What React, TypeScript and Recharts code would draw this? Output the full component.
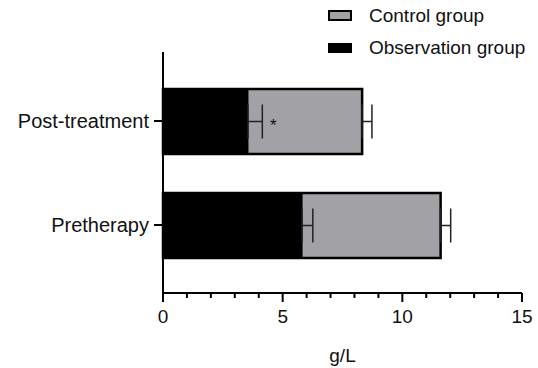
import {
  BarChart,
  Bar,
  XAxis,
  YAxis,
  ErrorBar,
  LabelList,
} from "recharts";
import { ReactElement } from "react";

const categories = ["Post-treatment", "Pretherapy"];
const controlValues = [8.32, 11.6];
const controlErrors = [0.41, 0.42];
const observationValues = [3.55, 5.81];
const observationErrors = [0.6, 0.45];
const significance = ["*", ""];
const xTicks = [0, 1, 2, 3, 4, 5, 6, 7, 8, 9, 10, 11, 12, 13, 14, 15];

const data = categories.map((name, i) => ({
  name,
  control: controlValues[i],
  controlErr: [0, controlErrors[i]],
  observation: observationValues[i],
  observationErr: [0, observationErrors[i]],
  observationTop: observationValues[i] + observationErrors[i],
  sig: significance[i],
}));

const FONT = "'Liberation Sans', Arial, sans-serif";

const XTick = (props: any) => {
  const { x, y, payload } = props;
  const major = payload.value % 5 === 0;
  return (
    <g>
      <line x1={x} x2={x} y1={y} y2={y + (major ? 9 : 5)} stroke="#000" strokeWidth={2} />
      {major && (
        <text x={x} y={y + 30} textAnchor="middle" fontSize={19} fontFamily={FONT} fill="#111">
          {payload.value}
        </text>
      )}
    </g>
  );
};

const StarLabel = (props: any) => {
  const { x, y, width, height, value, index } = props;
  if (!value) return null;
  const top = data[index].observationTop;
  const unit = width / data[index].observation;
  return (
    <text
      x={x + top * unit + 11}
      y={y + height / 2 + 9}
      textAnchor="middle"
      fontSize={17}
      fontFamily={FONT}
      fill="#111"
    >
      {value}
    </text>
  );
};

const LegendBox = (): ReactElement => (
  <div
    style={{
      position: "absolute",
      left: 328,
      top: 0,
      fontFamily: FONT,
      fontSize: 19,
      color: "#111",
    }}
  >
    <div style={{ display: "flex", alignItems: "center", height: 31 }}>
      <span
        style={{
          width: 20,
          height: 7,
          background: "#a2a1a5",
          border: "2px solid #000",
          marginRight: 17,
        }}
      />
      Control group
    </div>
    <div style={{ display: "flex", alignItems: "center", height: 33 }}>
      <span style={{ width: 24, height: 10, background: "#000", marginRight: 17 }} />
      Observation group
    </div>
  </div>
);

export const App = (): ReactElement => {
  return (
    <div style={{ position: "absolute", left: 0, top: 0, width: 538, height: 368, background: "#fff" }}>
      <BarChart
        width={538}
        height={368}
        data={data}
        layout="vertical"
        barGap={-65}
        margin={{ top: 52, right: 16, left: 0, bottom: 0 }}
      >
        <XAxis
          type="number"
          domain={[0, 15]}
          ticks={xTicks}
          interval={0}
          height={75}
          tickSize={0}
          tickMargin={0}
          tickLine={false}
          tick={<XTick />}
          axisLine={{ stroke: "#000", strokeWidth: 2 }}
          label={{
            value: "g/L",
            position: "insideBottom",
            offset: 6,
            fontSize: 19,
            fontFamily: FONT,
            fill: "#111",
          }}
        />
        <YAxis
          type="category"
          dataKey="name"
          width={163}
          padding={{ top: 17, bottom: 16 }}
          tickSize={9}
          tickMargin={5}
          tickLine={{ stroke: "#000", strokeWidth: 2 }}
          axisLine={{ stroke: "#000", strokeWidth: 2 }}
          tick={{ fontSize: 20, fontFamily: FONT, fill: "#111" }}
        />
        <Bar
          dataKey="control"
          name="Control group"
          fill="#a2a1a5"
          stroke="#000"
          strokeWidth={2.5}
          barSize={65}
          isAnimationActive={false}
        >
          <ErrorBar dataKey="controlErr" direction="x" width={17} stroke="#222" strokeWidth={1.5} />
        </Bar>
        <Bar
          dataKey="observation"
          name="Observation group"
          fill="#000"
          stroke="#000"
          strokeWidth={1}
          barSize={65}
          isAnimationActive={false}
        >
          <ErrorBar dataKey="observationErr" direction="x" width={17} stroke="#222" strokeWidth={1.5} />
          <LabelList dataKey="sig" content={<StarLabel />} />
        </Bar>
      </BarChart>
      <LegendBox />
    </div>
  );
};

export default App;
